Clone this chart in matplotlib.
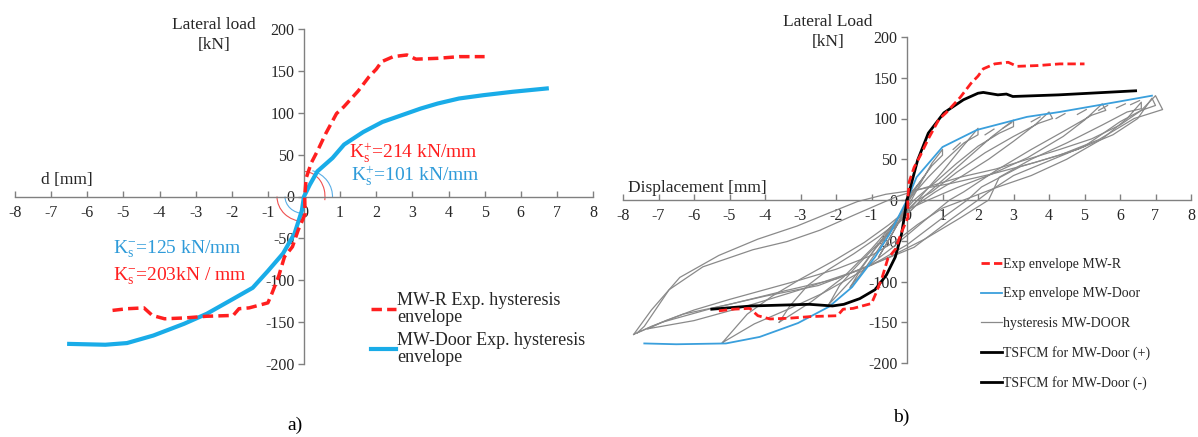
import numpy as np
import matplotlib
matplotlib.use('Agg')
import matplotlib.pyplot as plt
from matplotlib.patches import Arc
from matplotlib.transforms import Affine2D, ScaledTranslation

plt.rcParams['font.family'] = ['Liberation Serif', 'DejaVu Serif']
plt.rcParams['mathtext.fontset'] = 'custom'
plt.rcParams['mathtext.rm'] = 'Liberation Serif'
plt.rcParams['mathtext.it'] = 'Liberation Serif:italic'

W, H = 1198, 437

# --- experimental envelopes (displacement mm, load kN) ---
mwr_x = [-5.3, -4.9, -4.43, -4.2, -3.86, -3.3, -2.7, -1.96, -1.8, -1.52, -1.0, -0.89, -0.7,
         -0.54, -0.32, -0.16, 0.03, 0.02, 0.06, 0.2, 0.38, 0.6, 0.9, 1.1, 1.5, 1.8, 2.0, 2.15,
         2.47, 2.85, 3.1, 3.7, 4.3, 5.0]
mwr_y = [-136, -134, -133, -142, -146, -145, -143, -142, -134, -133, -127, -116, -95,
         -72, -60, -40, -21, 0, 22, 40, 55, 75, 99, 107, 126, 143, 152, 161,
         167, 169, 164, 165, 167, 167]

door_x = [-6.5, -5.5, -4.9, -4.17, -3.32, -2.69, -1.95, -1.42, -1.0, -0.58, -0.26, -0.06, 0.0,
          0.16, 0.37, 0.79, 1.11, 1.64, 2.17, 2.7, 3.23, 3.7, 4.29, 4.97, 5.77, 6.72]
door_y = [-176, -177, -175, -166, -152, -140, -122, -109, -89, -68, -44, -17, 0,
          14, 30, 46, 62, 77, 89, 97, 105, 111, 117, 121, 125, 129]

# envelope taken off the hysteresis (panel b)
env_x = [-7.4, -6.5, -5.1, -4.15, -3.07, -2.2, -1.55, -0.9, -0.48, 0.0, 0.27, 1.0, 1.97, 3.38,
         4.3, 5.35, 6.0, 6.9]
env_y = [-176, -177, -176, -168, -151, -131, -107, -70, -41, 0, 28, 65, 86, 102,
         108, 116, 121, 128]

# TSFCM model
tp_x = [0, 0.3, 0.6, 1.04, 1.59, 2.0, 2.15, 2.56, 2.8, 2.98, 4.27, 6.44]
tp_y = [0, 49, 82, 107, 123, 131, 132, 129, 130, 127, 129, 134]
tn_x = [0, -0.15, -0.33, -0.58, -0.9, -1.33, -1.78, -2.1, -2.75, -4.37, -5.5]
tn_y = [0, -41, -70, -92, -110, -121, -128, -130, -128, -130, -134]

# hysteresis loops, MW-Door
loops = [
    ([-7.6, -7.4, -6.7, -5.75, -4.34, -3.38, -2.45, -1.52, -0.78, -0.3, 0.5, 1.5, 2.5, 3.4, 4.3,
      5.2, 6.0, 6.6, 7.0, 7.2, 6.4, 5.4, 4.3, 3.2, 2.1, 1.7, 1.0, 0.0, -1.0, -2.5, -4.0, -5.5,
      -6.9, -7.6],
     [-163, -155, -110, -82, -61, -51, -37, -19, -5, 4, 15, 28, 38, 50, 62,
      75, 92, 110, 128, 111, 100, 74, 55, 41, 16, 0, -22, -55, -80, -105, -118, -133,
      -150, -163]),
    ([-7.7, -7.2, -6.4, -5.3, -4.2, -3.1, -2.2, -1.4, -0.6, 0.2, 1.2, 2.4, 3.6, 4.8, 5.8, 6.5,
      6.9, 7.0, 6.6, 6.0, 5.0, 4.0, 3.0, 2.3, 2.0, 1.2, 0.2, -0.8, -2.0, -3.5, -5.0, -6.3,
      -7.2, -7.7],
     [-165, -135, -95, -68, -48, -32, -16, -2, 7, 12, 20, 32, 46, 62, 80, 100,
      125, 116, 110, 96, 66, 48, 30, 10, 0, -25, -58, -76, -97, -112, -128, -140,
      -155, -165]),
    ([-7.3, -6.8, -6.0, -5.0, -4.0, -3.0, -2.0, -1.0, -0.3, 0.3, 1.0, 1.6, 2.5, 3.5, 4.5, 5.5,
      6.2, 6.6, 6.6, 6.2, 5.5, 4.5, 3.5, 2.6, 2.3, 1.5, 0.5, -0.5, -1.5, -3.0, -4.5, -6.0, -7.3],
     [-158, -148, -135, -122, -110, -98, -85, -68, -50, -30, -10, 0, 15, 30, 50, 75,
      100, 120, 112, 108, 92, 70, 50, 28, 0, -22, -48, -70, -88, -110, -130, -148, -158]),
    ([-5.2, -5.0, -4.5, -3.8, -3.0, -2.0, -1.2, -0.5, 0.0, 0.6, 1.4, 2.4, 3.4, 4.4, 5.0, 5.5,
      5.6, 5.2, 4.4, 3.5, 2.5, 1.6, 1.2, 0.5, -0.4, -1.3, -2.4, -3.4, -4.3, -5.2],
     [-175, -165, -140, -118, -97, -73, -52, -30, -12, 0, 15, 32, 52, 78, 98, 118,
      110, 104, 84, 62, 36, 10, 0, -25, -58, -88, -115, -135, -152, -175]),
    ([-3.6, -3.3, -2.8, -2.2, -1.5, -0.8, -0.2, 0.3, 0.8, 1.5, 2.3, 3.0, 3.6, 4.0,
      4.1, 3.7, 3.0, 2.2, 1.4, 0.7, 0.3, -0.3, -1.0, -1.8, -2.7, -3.6],
     [-150, -130, -105, -85, -66, -45, -25, -5, 10, 28, 50, 72, 92, 108,
      100, 94, 78, 58, 34, 10, 0, -25, -60, -95, -125, -150]),
    ([-2.2, -1.9, -1.5, -1.0, -0.5, 0.0, 0.5, 1.1, 1.8, 2.4, 3.0,
      3.0, 2.6, 2.0, 1.4, 0.8, 0.2, -0.3, -0.9, -1.5, -2.2],
     [-128, -105, -85, -62, -40, -18, 5, 28, 55, 78, 98,
      90, 82, 66, 45, 22, 0, -25, -60, -95, -128]),
    ([-1.6, -1.3, -0.9, -0.4, 0.0, 0.5, 1.0, 1.5, 2.0,
      2.0, 1.6, 1.1, 0.6, 0.1, -0.3, -0.8, -1.2, -1.6],
     [-107, -85, -60, -35, -15, 10, 35, 62, 88,
      80, 70, 50, 28, 3, -25, -60, -85, -107]),
    ([-0.8, -0.5, -0.2, 0.1, 0.4, 0.7, 1.0, 1.0, 0.7, 0.3, 0.0, -0.3, -0.6, -0.8],
     [-70, -48, -25, -2, 22, 45, 62, 55, 42, 18, -5, -32, -55, -70]),
    ([-0.4, -0.2, 0.1, 0.3, 0.5, 0.4, 0.1, -0.1, -0.4],
     [-35, -18, 5, 18, 30, 24, 8, -10, -35]),
]

# small load-drop hooks along the positive envelope
hook_x0 = [1.3, 2.2, 2.7, 3.5, 4.2, 4.8, 5.4, 5.9, 6.3]
hook_y0 = [62, 80, 88, 96, 100, 105, 110, 113, 117]
hook_x1 = [1.5, 2.45, 2.95, 3.75, 4.45, 5.05, 5.65, 6.15, 6.55]
hook_y1 = [70, 87, 95, 102, 106, 111, 116, 118, 122]

xticks = np.arange(-8, 9, 1)
yticks = np.arange(-200, 201, 50)

RED = '#ff1f1f'
BLUE = '#19ace8'
BLUE_TXT = '#2f9bd9'
AXC = '#808080'
TXT = '#262626'


def style_axes(ax):
    ax.set_xlim(-8, 8)
    ax.set_ylim(-200, 200)
    for s in ['top', 'right']:
        ax.spines[s].set_visible(False)
    ax.spines['left'].set_position(('data', 0))
    ax.spines['bottom'].set_position(('data', 0))
    for s in ['left', 'bottom']:
        ax.spines[s].set_color(AXC)
        ax.spines[s].set_linewidth(1.0)
    ax.set_xticks(xticks)
    ax.set_yticks(yticks)
    ax.set_xticklabels([str(v) for v in xticks])
    ax.set_yticklabels([str(v) for v in yticks])
    ax.tick_params(axis='x', direction='in', length=4, width=1, color=AXC,
                   labelsize=11.5, labelcolor=TXT, pad=6)
    ax.tick_params(axis='y', direction='out', length=4, width=1, color=AXC,
                   labelsize=11.5, labelcolor=TXT, pad=3)
    ax.patch.set_visible(False)


def angle_arc(ax, w, h, t1, t2, color):
    # arc around the data origin, sized in pixels
    tr = Affine2D().scale(1.0) + ScaledTranslation(0, 0, ax.transData)
    ax.add_patch(Arc((0, 0), w, h, theta1=t1, theta2=t2, color=color, lw=0.8,
                     transform=tr, zorder=2))


fig = plt.figure(figsize=(W / 100, H / 100), dpi=100)

# ---------------- a) ----------------
ax1 = fig.add_axes([15 / W, 73 / H, 578 / W, 335 / H])
style_axes(ax1)
ax1.plot(mwr_x, mwr_y, color=RED, lw=2.5, ls=(0, (3, 1.5)),
         label='MW-R Exp. hysteresis\nenvelope', zorder=4)
ax1.plot(door_x, door_y, color=BLUE, lw=3,
         label='MW-Door Exp. hysteresis\nenvelope', zorder=3)

angle_arc(ax1, 42, 50, -10, 88, '#f05050')
angle_arc(ax1, 57, 54, -3, 72, '#5aaee6')
angle_arc(ax1, 54, 50, 180, 268, '#f05050')
angle_arc(ax1, 38, 34, 180, 268, '#5aaee6')

ax1.text(1.25, 52, r'K$^{\mathrm{+}}_{\mathrm{s}}$=214 kN/mm', color=RED, fontsize=14,
         va='center', ha='left')
ax1.text(1.3, 24, r'K$^{\mathrm{+}}_{\mathrm{s}}$=101 kN/mm', color=BLUE_TXT, fontsize=14,
         va='center', ha='left')
ax1.text(-5.3, -63, r'K$^{\mathrm{-}}_{\mathrm{s}}$=125 kN/mm', color=BLUE_TXT, fontsize=14,
         va='center', ha='left')
ax1.text(-5.3, -95, r'K$^{\mathrm{-}}_{\mathrm{s}}$=203kN / mm', color=RED, fontsize=14,
         va='center', ha='left')

leg1 = ax1.legend(loc='upper left', bbox_to_anchor=(371 / W, 1 - 292 / H),
                  bbox_transform=fig.transFigure, frameon=False, fontsize=13,
                  handlelength=1.4, handletextpad=0.05, labelspacing=0.35,
                  borderpad=0, borderaxespad=0)
for t in leg1.get_texts():
    t.set_color(TXT)
    t.set_linespacing(1.0)

fig.text(214 / W, 1 - 35 / H, 'Lateral load\n[kN]', ha='center', va='center',
         fontsize=12.5, color=TXT, linespacing=1.4)
fig.text(67 / W, 1 - 180 / H, 'd [mm]', ha='center', va='center', fontsize=12.5, color=TXT)
fig.text(295 / W, 1 - 425 / H, 'a)', ha='center', va='center', fontsize=14, color='black')

# ---------------- b) ----------------
ax2 = fig.add_axes([623 / W, 74 / H, 568 / W, 326 / H])
style_axes(ax2)
for i, (lx, ly) in enumerate(loops):
    ax2.plot(lx, ly, color='#8a8a8a', lw=0.9, zorder=2,
             label='hysteresis MW-DOOR' if i == 0 else None)
for x0, y0, x1, y1 in zip(hook_x0, hook_y0, hook_x1, hook_y1):
    ax2.plot([x0, x1], [y0, y1], color='#8a8a8a', lw=0.9, zorder=2)
ax2.plot(env_x, env_y, color='#3a9fdc', lw=1.3, zorder=3, label='Exp envelope MW-Door')
ax2.plot(tp_x, tp_y, color='black', lw=2, zorder=4, label='TSFCM for MW-Door (+)')
ax2.plot(tn_x, tn_y, color='black', lw=2, zorder=4, label='TSFCM for MW-Door (-)')
ax2.plot(mwr_x, mwr_y, color=RED, lw=2, ls=(0, (3, 1.5)), zorder=5,
         label='Exp envelope MW-R')

h, l = ax2.get_legend_handles_labels()
order = ['Exp envelope MW-R', 'Exp envelope MW-Door', 'hysteresis MW-DOOR',
         'TSFCM for MW-Door (+)', 'TSFCM for MW-Door (-)']
hd = dict(zip(l, h))
leg2 = ax2.legend([hd[k] for k in order], order, loc='upper left',
                  bbox_to_anchor=(981 / W, 1 - 258 / H), bbox_transform=fig.transFigure,
                  frameon=False, fontsize=10, handlelength=1.5, handletextpad=0.05,
                  labelspacing=1.18, borderpad=0, borderaxespad=0)
for t in leg2.get_texts():
    t.set_color(TXT)

fig.text(828 / W, 1 - 32 / H, 'Lateral Load\n[kN]', ha='center', va='center',
         fontsize=12.5, color=TXT, linespacing=1.4)
fig.text(697 / W, 1 - 188 / H, 'Displacement [mm]', ha='center', va='center',
         fontsize=12.5, color=TXT)
fig.text(901 / W, 1 - 417 / H, 'b)', ha='center', va='center', fontsize=14, color='black')

fig.savefig('out.png', dpi=100)
